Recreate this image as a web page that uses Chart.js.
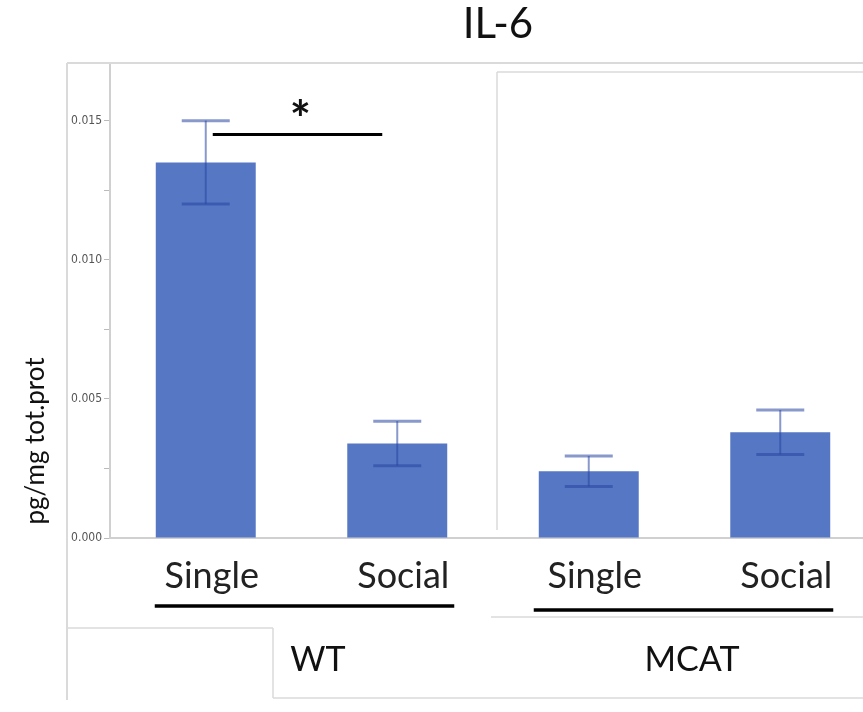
<!DOCTYPE html>
<html>
<head>
<meta charset="utf-8">
<script src="https://cdn.jsdelivr.net/npm/chart.js@4/dist/chart.umd.min.js"></script>
<style>
    html, body { margin: 0; padding: 0; background: #fff; overflow: hidden; }
    #wrap { width: 876px; height: 712px; }
</style>
</head>
<body>
<div id="wrap"><canvas id="myChart" width="876" height="712"></canvas></div>
<script>
// values
const groups = ['WT', 'MCAT'];
const conditions = ['Single', 'Social', 'Single', 'Social'];
const means = [0.0135, 0.0034, 0.0024, 0.0038];
const errors = [0.0015, 0.0008, 0.00055, 0.0008];
const yTicks = [0, 0.005, 0.010, 0.015];

const barColor = '#5677c4';
const frameColor = '#dadada';
const font = 'Lato, "Open Sans", sans-serif';

function line(ctx, x1, y1, x2, y2) {
    ctx.beginPath();
    ctx.moveTo(x1, y1);
    ctx.lineTo(x2, y2);
    ctx.stroke();
}

const decor = {
    id: 'decor',
    beforeDraw(chart) {
        const ctx = chart.ctx;
        ctx.save();
        ctx.strokeStyle = frameColor;
        ctx.lineWidth = 2;
        line(ctx, 67, 63, 876, 63);
        line(ctx, 67, 63, 67, 700);
        ctx.lineWidth = 1.5;
        line(ctx, 497, 72, 876, 72);
        line(ctx, 497, 72, 497, 530);
        line(ctx, 491, 617, 876, 617);
        line(ctx, 67, 628, 273, 628);
        line(ctx, 273, 628, 273, 698);
        line(ctx, 273, 698, 876, 698);
        ctx.restore();
    },
    afterDatasetsDraw(chart) {
        const ctx = chart.ctx;
        const x = chart.scales.x;
        const y = chart.scales.y;
        ctx.save();
        ctx.strokeStyle = 'rgba(40,70,160,0.55)';
        means.forEach((m, i) => {
            const cx = x.getPixelForValue(i);
            const top = y.getPixelForValue(m + errors[i]);
            const bot = y.getPixelForValue(m - errors[i]);
            ctx.lineWidth = 2;
            line(ctx, cx, top, cx, bot);
            ctx.lineWidth = 3;
            line(ctx, cx - 24, top, cx + 24, top);
            line(ctx, cx - 24, bot, cx + 24, bot);
        });
        ctx.restore();
    },
    afterDraw(chart) {
        const ctx = chart.ctx;
        const x = chart.scales.x;
        const y = chart.scales.y;
        ctx.save();

        // title
        ctx.fillStyle = '#111';
        ctx.textAlign = 'center';
        ctx.textBaseline = 'middle';
        ctx.font = '42px ' + font;
        ctx.fillText('IL-6', 498, 24);

        // y axis title
        ctx.save();
        ctx.translate(36, 441);
        ctx.rotate(-Math.PI / 2);
        ctx.font = '26px ' + font;
        ctx.fillText('pg/mg tot.prot', 0, 0);
        ctx.restore();

        // significance bar
        const sy = y.getPixelForValue(0.0145);
        const s1 = x.getPixelForValue(0) + 7;
        const s2 = x.getPixelForValue(1) - 15;
        ctx.strokeStyle = '#000';
        ctx.lineWidth = 3;
        line(ctx, s1, sy, s2, sy);
        ctx.font = 'bold 50px ' + font;
        ctx.textBaseline = 'alphabetic';
        ctx.fillText('*', (s1 + s2) / 2 + 3, sy + 2);

        // group underlines
        ctx.lineWidth = 3.5;
        line(ctx, x.getPixelForValue(0) - 51, 606, x.getPixelForValue(1) + 57, 606);
        line(ctx, x.getPixelForValue(2) - 55, 610, x.getPixelForValue(3) + 53, 610);

        // group labels
        ctx.fillStyle = '#111';
        ctx.textBaseline = 'middle';
        ctx.font = '34px ' + font;
        ctx.fillText(groups[0], 318, 660);
        ctx.fillText(groups[1], 692, 660);

        ctx.restore();
    }
};

const ctx = document.getElementById('myChart').getContext('2d');

new Chart(ctx, {
    type: 'bar',
    data: {
        labels: conditions,
        datasets: [{
            label: 'IL-6',
            data: means,
            backgroundColor: barColor,
            borderWidth: 0,
            barPercentage: 0.522,
            categoryPercentage: 1
        }]
    },
    options: {
        responsive: false,
        animation: false,
        layout: {
            padding: { left: 0, right: 0, top: 65, bottom: 114 }
        },
        scales: {
            x: {
                afterFit: s => { s.height = 60; },
                grid: { display: false, drawTicks: false },
                border: { color: '#d0d0d0', width: 2 },
                ticks: {
                    color: '#222',
                    padding: 17,
                    labelOffset: 6,
                    font: { family: font, size: 36 }
                }
            },
            y: {
                min: 0,
                max: 0.017,
                afterFit: s => { s.width = 110; },
                grid: { drawOnChartArea: false, tickLength: 6, color: '#bbb' },
                border: { color: '#d0d0d0', width: 2 },
                ticks: {
                    stepSize: 0.0025,
                    includeBounds: false,
                    padding: 2,
                    color: '#555',
                    font: { family: '"Liberation Sans Narrow", "DejaVu Sans Condensed", sans-serif', size: 12 },
                    callback: v => yTicks.some(t => Math.abs(t - v) < 1e-9) ? v.toFixed(3) : ''
                }
            }
        },
        plugins: {
            legend: { display: false },
            tooltip: { enabled: false }
        }
    },
    plugins: [decor]
});
</script>
</body>
</html>
